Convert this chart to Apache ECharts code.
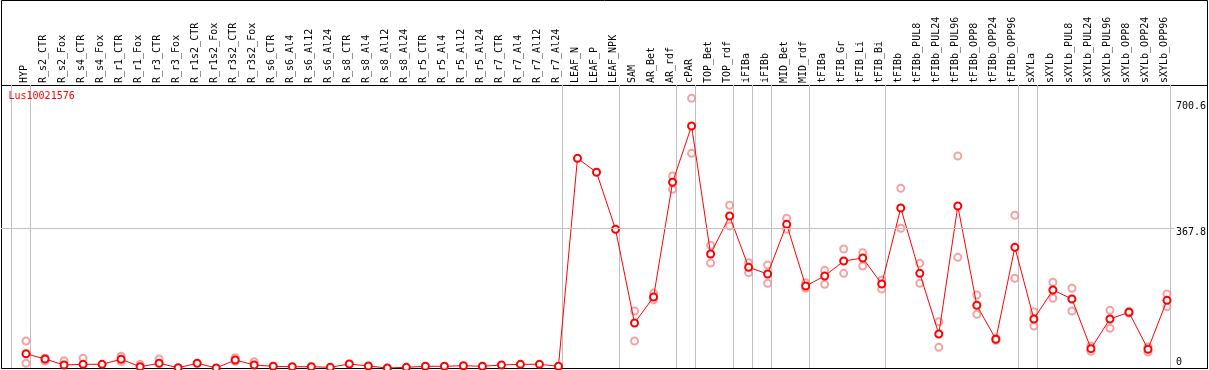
<!DOCTYPE html>
<html><head><meta charset="utf-8">
<script src="https://cdn.jsdelivr.net/npm/echarts@6/dist/echarts.min.js"></script>
<style>html,body{margin:0;padding:0;background:#fff}#c{width:1209px;height:370px}</style>
</head><body><div id="c"></div>
<script>
const geneName = 'Lus10021576';
const categories = ['HYP','R_s2_CTR','R_s2_Fox','R_s4_CTR','R_s4_Fox','R_r1_CTR','R_r1_Fox','R_r3_CTR','R_r3_Fox','R_r1s2_CTR','R_r1s2_Fox','R_r3s2_CTR','R_r3s2_Fox','R_s6_CTR','R_s6_Al4','R_s6_Al12','R_s6_Al24','R_s8_CTR','R_s8_Al4','R_s8_Al12','R_s8_Al24','R_r5_CTR','R_r5_Al4','R_r5_Al12','R_r5_Al24','R_r7_CTR','R_r7_Al4','R_r7_Al12','R_r7_Al24','LEAF_N','LEAF_P','LEAF_NPK','SAM','AR_Bet','AR_rdf','cPAR','TOP_Bet','TOP_rdf','iFIBa','iFIBb','MID_Bet','MID_rdf','tFIBa','tFIB_Gr','tFIB_Li','tFIB_Bi','tFIBb','tFIBb_PUL8','tFIBb_PUL24','tFIBb_PUL96','tFIBb_OPP8','tFIBb_OPP24','tFIBb_OPP96','sXYLa','sXYLb','sXYLb_PUL8','sXYLb_PUL24','sXYLb_PUL96','sXYLb_OPP8','sXYLb_OPP24','sXYLb_OPP96'];
const meanValues = [37.6,23.7,7.9,9.7,9.7,22.9,3.4,12.4,0.8,12.4,0,21,7.9,4.5,3.4,3.4,1.8,10.5,5.3,0,1.8,4.5,4.5,6,4.5,7.9,9.7,9.7,4.5,551.5,514.7,364.8,118.3,186.7,488.4,636.5,299.8,399.8,264.8,247.2,377.9,215.7,242,281.4,289.3,220.9,420.8,249,89.4,426,164.9,75.5,317.4,128.9,205.1,181.5,50.8,128.9,146.5,49.2,178];
const repHigh = [71,25.5,19.2,25.5,null,30.8,9.7,23.7,null,null,null,27,16.6,null,null,null,null,null,null,null,null,null,null,null,null,null,null,null,null,null,null,null,150,197,505,709.3,322.6,427.9,277,270.9,393.7,224.3,256.9,313,303.3,231.4,472.6,275.3,121.8,557.6,192,78,401.6,148,225.4,209.6,58,151.7,149,56,194.6];
const repLow = [12.4,18.4,null,null,null,16.6,null,null,null,null,null,17.6,null,null,null,null,null,null,null,null,null,null,null,null,null,null,null,null,null,null,null,null,71,179,470,564.6,276,373.5,250.7,222.7,364.8,209.6,220,249,268.3,207.8,367.4,222.7,54.4,291.1,141.2,73,235.9,110.5,183.3,149.9,44,104.4,144,42,161.2];
const yTickValues = [0, 367.8, 700.6];
const separatorStarts = [0,1,29,32,35,36,38,39,40,42,46,53,54];

const FONT = 'DejaVu Sans Mono';
const YMAX = 744.3;
function repPoints(arr){ const out=[]; arr.forEach((v,i)=>{ if(v!=null) out.push([i,v]); }); return out; }

const chart = echarts.init(document.getElementById('c'), null, {renderer:'canvas'});
chart.setOption({
  animation:false,
  backgroundColor:'#fff',
  title:{text:geneName,left:8.5,top:91,padding:0,textStyle:{color:'#ff0000',fontSize:10,fontFamily:FONT,fontWeight:'normal'}},
  grid:[
    {left:1.5,top:0.5,right:1.5,bottom:1.5,show:true,borderColor:'#000',borderWidth:1,backgroundColor:'transparent'},
    {left:1.5,top:85.5,right:1.5,bottom:1.5,show:true,borderColor:'#000',borderWidth:1,backgroundColor:'transparent'},
    {left:1,top:85,right:32,bottom:2},
    {left:11,top:85,right:38.5,bottom:2},
    {left:16.5,top:85,right:32.5,bottom:2},
    {left:14.8,top:85,right:34.7,bottom:2}
  ],
  xAxis:[
    {gridIndex:0,type:'value',show:false},
    {gridIndex:1,type:'value',show:false},
    {gridIndex:2,type:'value',show:false,min:0,max:1},
    {gridIndex:3,type:'category',data:categories,position:'top',boundaryGap:true,
      axisLine:{show:false},axisTick:{show:false},axisLabel:{show:false},
      splitLine:{show:true,interval:(i)=>separatorStarts.includes(i),lineStyle:{color:'#c0c0c0',width:1}}},
    {gridIndex:4,type:'category',data:categories,boundaryGap:true,show:false},
    {gridIndex:5,type:'category',data:categories,position:'top',boundaryGap:true,
      axisLine:{show:false},axisTick:{show:false},splitLine:{show:false},
      axisLabel:{interval:0,rotate:90,margin:2,fontSize:10,fontFamily:FONT,color:'#000',hideOverlap:false}}
  ],
  yAxis:[
    {gridIndex:0,type:'value',show:false},
    {gridIndex:1,type:'value',show:false},
    {gridIndex:2,type:'value',position:'right',min:0,max:YMAX,
      axisLine:{show:false},axisTick:{show:false},splitLine:{show:false},
      axisLabel:{customValues:yTickValues,margin:2,fontSize:10,fontFamily:FONT,color:'#000',
        formatter:(v)=> v===0 ? '{b|0}' : '{t|'+v+'}',
        rich:{t:{padding:[9,0,0,0],fontSize:10,fontFamily:FONT,color:'#000'},b:{padding:[0,0,12,0],fontSize:10,fontFamily:FONT,color:'#000'}}}},
    {gridIndex:3,type:'value',show:false,min:0,max:YMAX},
    {gridIndex:4,type:'value',show:false,min:0,max:YMAX},
    {gridIndex:5,type:'value',show:false,min:0,max:YMAX}
  ],
  series:[
    {type:'line',xAxisIndex:2,yAxisIndex:2,data:[],silent:true,
      markLine:{silent:true,symbol:['none','none'],label:{show:false},lineStyle:{color:'#c0c0c0',width:1,type:'solid'},data:[{yAxis:yTickValues[1]}]}},
    {type:'scatter',xAxisIndex:4,yAxisIndex:4,data:repPoints(repHigh).concat(repPoints(repLow)),
      symbol:'emptyCircle',symbolSize:7,z:2,
      itemStyle:{color:'#f08c8c',borderColor:'#f08c8c',borderWidth:1.2}},
    {type:'line',xAxisIndex:4,yAxisIndex:4,data:meanValues,symbol:'emptyCircle',symbolSize:7,showAllSymbol:true,z:3,
      lineStyle:{color:'#ff0000',width:1},
      itemStyle:{color:'#ff0000',borderColor:'#ff0000',borderWidth:1.6}}
  ]
});
</script></body></html>
